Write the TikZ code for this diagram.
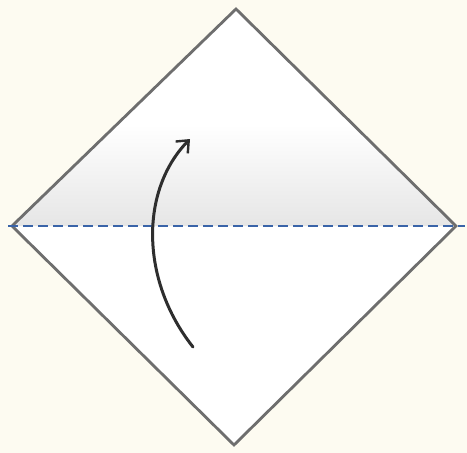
\documentclass[tikz,border=0pt]{standalone}
\usetikzlibrary{arrows.meta}
\definecolor{bgcream}{HTML}{FDFBF1}
\definecolor{edgegray}{HTML}{6E6E6E}
\definecolor{creaseblue}{HTML}{3A64A8}
\definecolor{arrowgray}{HTML}{2E2E2E}
\tikzset{
  paperedge/.style={draw=edgegray, line width=2.8pt, line join=miter},
  valleyfold/.style={draw=creaseblue, line width=1.8pt, dash pattern=on 10pt off 5pt},
  foldarrow/.style={draw=arrowgray, line width=3pt, line cap=round, -{Straight Barb[length=10pt,width=17pt,line width=2.4pt]}}
}
\begin{document}
\begin{tikzpicture}[x=1pt,y=-1pt]
\useasboundingbox (0,0) rectangle (467,453);
\fill[bgcream] (0,0) rectangle (467,453);
\coordinate (T) at (236,9);
\coordinate (L) at (12,226);
\coordinate (R) at (456,226);
\coordinate (B) at (234,445);
\coordinate (dl) at (8,226);
\coordinate (dr) at (465,226);
\coordinate (a0) at (193,347);
\coordinate (a1) at (190,139);
\fill[white] (T) -- (R) -- (B) -- (L) -- cycle;
\begin{scope}
  \clip (T) -- (R) -- (L) -- cycle;
  \shade[top color=white, bottom color=black!10] (0,125) rectangle (467,226);
\end{scope}
\draw[paperedge] (T) -- (R) -- (B) -- (L) -- cycle;
\draw[valleyfold] (dl) -- (dr);
\draw[foldarrow] (a0) .. controls (140,280) and (140,190) .. (a1);
\end{tikzpicture}
\end{document}
